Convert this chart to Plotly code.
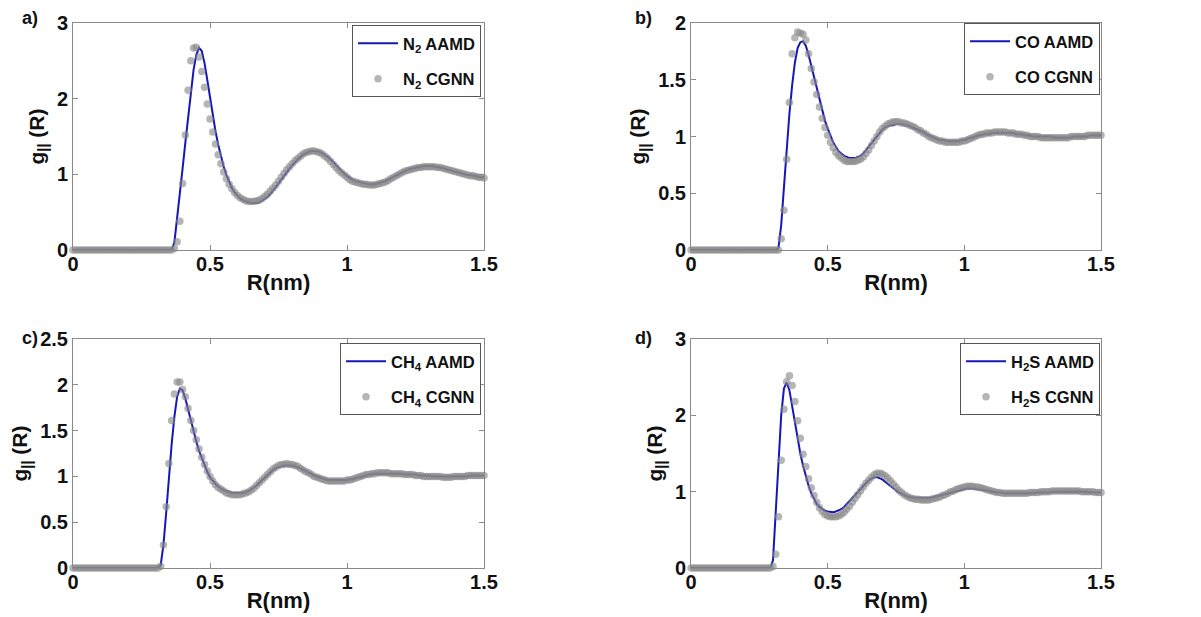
import numpy as np
import plotly.graph_objects as go

# ---------------- data ----------------
R = np.round(np.arange(0, 1.501, 0.01), 2)  # R (nm), 0.00 ... 1.50

Z10 = [0, 0, 0, 0, 0, 0, 0, 0, 0, 0]

n2_aamd = (Z10 + Z10 + Z10 +
    [0, 0, 0, 0, 0, 0, 0, 0.10, 0.40, 0.74] +
    [1.08, 1.42, 1.76, 2.08, 2.38, 2.58, 2.67, 2.63, 2.47, 2.25] +
    [2.01, 1.78, 1.57, 1.39, 1.23, 1.10, 0.99, 0.90, 0.82, 0.76] +
    [0.72, 0.68, 0.66, 0.64, 0.63, 0.62, 0.62, 0.62, 0.63, 0.65] +
    [0.67, 0.70, 0.74, 0.78, 0.83, 0.88, 0.93, 0.98, 1.03, 1.08] +
    [1.12, 1.16, 1.20, 1.23, 1.26, 1.28, 1.30, 1.31, 1.31, 1.31] +
    [1.30, 1.28, 1.26, 1.23, 1.20, 1.16, 1.12, 1.08, 1.05, 1.01] +
    [0.98, 0.95, 0.93, 0.91, 0.90, 0.89, 0.88, 0.87, 0.87, 0.87] +
    [0.87, 0.88, 0.89, 0.90, 0.91, 0.93, 0.95, 0.97, 0.99, 1.01] +
    [1.03, 1.05, 1.06, 1.07, 1.08, 1.09, 1.10, 1.10, 1.11, 1.11] +
    [1.11, 1.11, 1.10, 1.10, 1.09, 1.08, 1.07, 1.06, 1.05, 1.04] +
    [1.03, 1.02, 1.01, 1.00, 0.99, 0.99, 0.98, 0.97, 0.97, 0.96] +
    [0.96])

n2_cgnn = (Z10 + Z10 + Z10 +
    [0, 0, 0, 0, 0, 0, 0, 0.02, 0.11, 0.38] +
    [0.88, 1.52, 2.11, 2.50, 2.67, 2.68, 2.55, 2.36, 2.15, 1.93] +
    [1.73, 1.56, 1.40, 1.26, 1.14, 1.03, 0.94, 0.87, 0.81, 0.76] +
    [0.72, 0.69, 0.67, 0.65, 0.64, 0.64, 0.64, 0.65, 0.66, 0.68] +
    [0.71, 0.74, 0.78, 0.82, 0.86, 0.91, 0.96, 1.01, 1.06, 1.10] +
    [1.14, 1.18, 1.21, 1.24, 1.27, 1.29, 1.30, 1.31, 1.31, 1.30] +
    [1.29, 1.27, 1.24, 1.21, 1.17, 1.13, 1.09, 1.05, 1.02, 0.99] +
    [0.96, 0.93, 0.91, 0.90, 0.89, 0.88, 0.87, 0.87, 0.86, 0.86] +
    [0.86, 0.87, 0.88, 0.89, 0.90, 0.92, 0.94, 0.96, 0.98, 1.00] +
    [1.02, 1.04, 1.05, 1.06, 1.07, 1.08, 1.09, 1.09, 1.10, 1.10] +
    [1.10, 1.10, 1.10, 1.09, 1.09, 1.08, 1.07, 1.06, 1.05, 1.04] +
    [1.03, 1.02, 1.01, 1.00, 0.99, 0.98, 0.98, 0.97, 0.96, 0.96] +
    [0.95])

co_aamd = (Z10 + Z10 + Z10 +
    [0, 0, 0.02, 0.22, 0.55, 0.90, 1.20, 1.45, 1.65, 1.78] +
    [1.83, 1.84, 1.80, 1.72, 1.62, 1.52, 1.42, 1.32, 1.23, 1.14] +
    [1.07, 1.00, 0.95, 0.91, 0.87, 0.85, 0.83, 0.82, 0.81, 0.81] +
    [0.81, 0.82, 0.83, 0.85, 0.88, 0.91, 0.94, 0.98, 1.01, 1.04] +
    [1.06, 1.08, 1.09, 1.10, 1.10, 1.11, 1.11, 1.11, 1.10, 1.10] +
    [1.09, 1.08, 1.07, 1.06, 1.05, 1.04, 1.02, 1.01, 1.00, 0.99] +
    [0.98, 0.97, 0.97, 0.97, 0.96, 0.96, 0.96, 0.96, 0.96, 0.97] +
    [0.97, 0.98, 0.99, 0.99, 1.00, 1.01, 1.01, 1.02, 1.02, 1.02] +
    [1.03, 1.03, 1.03, 1.03, 1.03, 1.03, 1.03, 1.03, 1.03, 1.02] +
    [1.02, 1.02, 1.01, 1.01, 1.01, 1.00, 1.00, 1.00, 1.00, 1.00] +
    [1.00, 1.00, 1.00, 0.99, 0.99, 0.99, 0.99, 0.99, 0.99, 0.99] +
    [1.00, 1.00, 1.00, 1.00, 1.00, 1.00, 1.01, 1.01, 1.01, 1.01] +
    [1.01])

co_cgnn = (Z10 + Z10 + Z10 +
    [0, 0, 0, 0.10, 0.35, 0.80, 1.30, 1.73, 1.87, 1.92] +
    [1.91, 1.90, 1.85, 1.73, 1.60, 1.48, 1.37, 1.26, 1.16, 1.08] +
    [1.01, 0.95, 0.90, 0.86, 0.83, 0.81, 0.79, 0.78, 0.78, 0.78] +
    [0.78, 0.79, 0.80, 0.82, 0.85, 0.88, 0.92, 0.96, 1.00, 1.04] +
    [1.07, 1.09, 1.11, 1.12, 1.13, 1.13, 1.13, 1.12, 1.12, 1.11] +
    [1.10, 1.09, 1.08, 1.06, 1.05, 1.03, 1.02, 1.00, 0.99, 0.98] +
    [0.97, 0.96, 0.96, 0.95, 0.95, 0.95, 0.95, 0.95, 0.95, 0.96] +
    [0.96, 0.97, 0.98, 0.99, 1.00, 1.01, 1.02, 1.02, 1.03, 1.03] +
    [1.03, 1.04, 1.04, 1.04, 1.04, 1.04, 1.03, 1.03, 1.03, 1.02] +
    [1.02, 1.02, 1.01, 1.01, 1.00, 1.00, 1.00, 1.00, 0.99, 0.99] +
    [0.99, 0.99, 0.99, 0.99, 0.99, 0.99, 0.99, 0.99, 0.99, 1.00] +
    [1.00, 1.00, 1.00, 1.00, 1.00, 1.01, 1.01, 1.01, 1.01, 1.01] +
    [1.01])

ch4_aamd = (Z10 + Z10 + Z10 +
    [0, 0, 0.03, 0.25, 0.60, 1.00, 1.35, 1.65, 1.87, 1.96] +
    [1.94, 1.85, 1.73, 1.60, 1.48, 1.38, 1.28, 1.20, 1.12, 1.05] +
    [0.99, 0.95, 0.92, 0.89, 0.87, 0.85, 0.84, 0.83, 0.82, 0.82] +
    [0.82, 0.82, 0.82, 0.83, 0.84, 0.86, 0.88, 0.90, 0.93, 0.96] +
    [0.99, 1.02, 1.05, 1.07, 1.09, 1.10, 1.11, 1.12, 1.12, 1.12] +
    [1.12, 1.11, 1.10, 1.09, 1.07, 1.06, 1.04, 1.03, 1.01, 1.00] +
    [0.99, 0.98, 0.97, 0.96, 0.96, 0.96, 0.96, 0.96, 0.96, 0.96] +
    [0.96, 0.97, 0.97, 0.98, 0.99, 0.99, 1.00, 1.01, 1.02, 1.02] +
    [1.03, 1.03, 1.03, 1.03, 1.03, 1.03, 1.03, 1.03, 1.03, 1.03] +
    [1.03, 1.02, 1.02, 1.02, 1.02, 1.02, 1.01, 1.01, 1.01, 1.01] +
    [1.01, 1.00, 1.00, 1.00, 1.00, 1.00, 1.00, 1.00, 1.00, 1.00] +
    [1.00, 1.00, 1.00, 1.00, 1.00, 1.01, 1.01, 1.01, 1.01, 1.01] +
    [1.01])

ch4_cgnn = (Z10 + Z10 + Z10 +
    [0, 0, 0.02, 0.25, 0.67, 1.14, 1.61, 1.90, 2.03, 2.03] +
    [1.95, 1.87, 1.74, 1.61, 1.50, 1.40, 1.30, 1.21, 1.13, 1.06] +
    [1.00, 0.95, 0.91, 0.88, 0.86, 0.84, 0.82, 0.81, 0.80, 0.80] +
    [0.80, 0.80, 0.81, 0.82, 0.83, 0.85, 0.87, 0.90, 0.93, 0.96] +
    [0.99, 1.02, 1.05, 1.08, 1.10, 1.12, 1.13, 1.13, 1.14, 1.13] +
    [1.13, 1.12, 1.11, 1.09, 1.07, 1.05, 1.04, 1.02, 1.00, 0.99] +
    [0.98, 0.97, 0.96, 0.95, 0.95, 0.95, 0.95, 0.95, 0.95, 0.95] +
    [0.96, 0.96, 0.97, 0.98, 0.99, 1.00, 1.01, 1.02, 1.02, 1.03] +
    [1.03, 1.04, 1.04, 1.04, 1.04, 1.04, 1.03, 1.03, 1.03, 1.03] +
    [1.03, 1.02, 1.02, 1.02, 1.02, 1.01, 1.01, 1.01, 1.00, 1.00] +
    [1.00, 1.00, 1.00, 1.00, 1.00, 0.99, 0.99, 0.99, 0.99, 1.00] +
    [1.00, 1.00, 1.00, 1.00, 1.01, 1.01, 1.01, 1.01, 1.01, 1.01] +
    [1.01])

h2s_aamd = (Z10 + Z10 + Z10 +
    [0.10, 0.70, 1.40, 2.00, 2.35, 2.43, 2.33, 2.12, 1.90, 1.68] +
    [1.50, 1.34, 1.20, 1.08, 0.98, 0.90, 0.84, 0.80, 0.77, 0.75] +
    [0.74, 0.73, 0.73, 0.74, 0.75, 0.77, 0.80, 0.84, 0.88, 0.92] +
    [0.96, 1.00, 1.04, 1.08, 1.12, 1.15, 1.17, 1.19, 1.19, 1.18] +
    [1.16, 1.13, 1.10, 1.07, 1.04, 1.01, 0.99, 0.97, 0.95, 0.94] +
    [0.93, 0.92, 0.92, 0.92, 0.92, 0.92, 0.92, 0.92, 0.92, 0.93] +
    [0.94, 0.95, 0.96, 0.97, 0.98, 0.99, 1.00, 1.01, 1.02, 1.03] +
    [1.04, 1.04, 1.04, 1.04, 1.04, 1.03, 1.03, 1.02, 1.02, 1.01] +
    [1.00, 1.00, 0.99, 0.99, 0.98, 0.98, 0.98, 0.98, 0.98, 0.98] +
    [0.98, 0.98, 0.98, 0.98, 0.98, 0.98, 0.99, 0.99, 0.99, 0.99] +
    [0.99, 0.99, 1.00, 1.00, 1.00, 1.00, 1.00, 1.00, 1.00, 1.00] +
    [1.00, 1.00, 1.00, 1.00, 1.00, 1.00, 0.99, 0.99, 0.99, 0.99] +
    [0.99])

h2s_cgnn = (Z10 + Z10 + Z10 +
    [0.02, 0.18, 0.67, 1.41, 2.08, 2.44, 2.52, 2.39, 2.18, 1.93] +
    [1.70, 1.49, 1.33, 1.17, 1.05, 0.95, 0.86, 0.79, 0.74, 0.70] +
    [0.68, 0.67, 0.67, 0.67, 0.68, 0.70, 0.73, 0.77, 0.81, 0.86] +
    [0.91, 0.96, 1.01, 1.06, 1.11, 1.15, 1.19, 1.22, 1.24, 1.24] +
    [1.23, 1.21, 1.18, 1.14, 1.10, 1.06, 1.02, 0.99, 0.96, 0.94] +
    [0.92, 0.91, 0.90, 0.90, 0.89, 0.89, 0.89, 0.89, 0.90, 0.91] +
    [0.92, 0.93, 0.95, 0.96, 0.98, 1.00, 1.01, 1.03, 1.04, 1.05] +
    [1.06, 1.07, 1.07, 1.07, 1.06, 1.06, 1.05, 1.04, 1.03, 1.02] +
    [1.01, 1.00, 0.99, 0.99, 0.98, 0.98, 0.98, 0.98, 0.98, 0.98] +
    [0.98, 0.98, 0.98, 0.98, 0.99, 0.99, 0.99, 0.99, 1.00, 1.00] +
    [1.00, 1.00, 1.01, 1.01, 1.01, 1.01, 1.01, 1.01, 1.01, 1.01] +
    [1.01, 1.01, 1.01, 1.00, 1.00, 1.00, 1.00, 1.00, 0.99, 0.99] +
    [0.99])

panel_letters = ["a)", "b)", "c)", "d)"]
species = ["N<sub>2</sub>", "CO", "CH<sub>4</sub>", "H<sub>2</sub>S"]
aamd_series = [n2_aamd, co_aamd, ch4_aamd, h2s_aamd]
cgnn_series = [n2_cgnn, co_cgnn, ch4_cgnn, h2s_cgnn]
y_max = [3, 2, 2.5, 3]
y_ticks = [[0, 1, 2, 3], [0, 0.5, 1, 1.5, 2], [0, 0.5, 1, 1.5, 2, 2.5], [0, 1, 2, 3]]
x_ticks = [0, 0.5, 1, 1.5]
x_ticklabels = ["0", "0.5", "1", "1.5"]

# ---------------- layout geometry ----------------
# The page body has an 8 px margin, so the figure starts at window (8, 8);
# all pixel positions below are window positions minus 8.
OFF = 8
W, H = 1201 - OFF, 617 - OFF
# (left, right, top, bottom) of each plot area in window px
boxes = [(73, 484, 23, 250), (691, 1101, 23, 250),
         (73, 484, 339, 568), (691, 1101, 339, 568)]
legend_pos = [(481, 25), (1100, 23), (481, 343), (1100, 343)]
letter_pos = [(30, 18), (643, 18), (30, 338), (643, 338)]

FONT = "Liberation Sans, Arial, sans-serif"
LINE_COL = "#1717b8"
DOT_COL = "rgba(135,135,135,0.62)"
AX_COL = "#8a8a8a"
TXT = "#111111"


def fx(px):
    return (px - OFF) / W


def fy(py):
    return 1 - (py - OFF) / H


fig = go.Figure()
layout = dict(width=W, height=H, margin=dict(l=0, r=0, t=0, b=0, autoexpand=False),
              paper_bgcolor="white", plot_bgcolor="white",
              font=dict(family=FONT, size=17, color=TXT, weight="bold"),
              showlegend=True, annotations=[])

for i in range(4):
    sfx = "" if i == 0 else str(i + 1)
    lg = "legend" + sfx
    xa, ya = "x" + sfx, "y" + sfx
    fig.add_trace(go.Scatter(x=R, y=aamd_series[i], mode="lines",
                             line=dict(color=LINE_COL, width=2),
                             name=species[i] + " AAMD", xaxis=xa, yaxis=ya,
                             legend=lg, legendgroup="l%d" % i))
    fig.add_trace(go.Scatter(x=R, y=cgnn_series[i], mode="markers",
                             marker=dict(color=DOT_COL, size=7.5),
                             name=species[i] + " CGNN", xaxis=xa, yaxis=ya,
                             legend=lg, legendgroup="m%d" % i, cliponaxis=False))
    l, r, t, b = boxes[i]
    axis_common = dict(showline=True, linecolor=AX_COL, linewidth=1, mirror="ticks",
                       ticks="inside", ticklen=5, tickcolor=AX_COL, showgrid=False,
                       zeroline=False, automargin=False,
                       tickfont=dict(family=FONT, size=20, color=TXT, weight="bold"))
    layout["xaxis" + sfx] = dict(axis_common, domain=[fx(l), fx(r)], range=[0, 1.5],
                                 tickvals=x_ticks, ticktext=x_ticklabels,
                                 anchor=ya, ticklabelstandoff=-4,
                                 title=dict(text="R(nm)", standoff=0,
                                            font=dict(family=FONT, size=22, color=TXT, weight="bold")))
    layout["yaxis" + sfx] = dict(axis_common, domain=[fy(b), fy(t)],
                                 range=[0, y_max[i]], tickvals=y_ticks[i],
                                 anchor=xa,
                                 title=dict(text="g<sub>||</sub> (R)", standoff=6,
                                            font=dict(family=FONT, size=21, color=TXT, weight="bold")))
    lx, ly = legend_pos[i]
    layout[lg] = dict(x=fx(lx), y=fy(ly), xanchor="right", yanchor="top",
                      bgcolor="white", bordercolor="#555555", borderwidth=1,
                      itemwidth=40, font=dict(family=FONT, size=16.5, color=TXT, weight="bold"),
                      tracegroupgap=11)
    px_, py_ = letter_pos[i]
    layout["annotations"].append(dict(text=panel_letters[i], x=fx(px_), y=fy(py_),
                                      xref="paper", yref="paper", showarrow=False,
                                      xanchor="center", yanchor="middle",
                                      font=dict(family=FONT, size=18, color=TXT, weight="bold")))

fig.update_layout(**layout)
fig.write_html("out.html")
